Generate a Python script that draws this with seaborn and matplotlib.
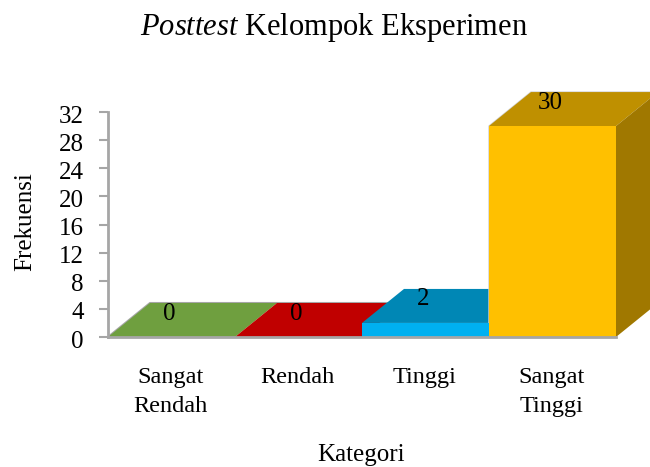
import matplotlib
matplotlib.use('Agg')
import matplotlib.pyplot as plt
from matplotlib.transforms import ScaledTranslation
import seaborn as sns

categories = ['Sangat\nRendah', 'Rendah', 'Tinggi', 'Sangat\nTinggi']
values = [0, 0, 2, 30]
y_ticks = [0, 4, 8, 12, 16, 20, 24, 28, 32]

front_colors = ['#70AD47', '#C00000', '#00B0F0', '#FFC000']
top_colors = ['#6F9F3F', '#C00000', '#0087B5', '#BF9000']
side_colors = ['#557F33', '#900000', '#00749E', '#A07800']

sns.set_style('white')
plt.rcParams['font.family'] = ['Liberation Serif', 'DejaVu Serif']
plt.rcParams['mathtext.fontset'] = 'custom'
plt.rcParams['mathtext.it'] = 'Liberation Serif:italic'
plt.rcParams['mathtext.rm'] = 'Liberation Serif'
plt.rcParams['text.color'] = 'black'

W, H = 650, 467
fig = plt.figure(figsize=(W / 100, H / 100), dpi=100)
ax = fig.add_axes([108 / W, 1 - 337 / H, 508 / W, 225 / H])

sns.barplot(x=categories, y=values, hue=categories, palette=front_colors,
            width=1, saturation=1, legend=False, linewidth=0, ax=ax)
ax.set_xlim(-0.5, 3.5)
ax.set_ylim(0, 32)
ax.set_yticks(y_ticks)
ax.patch.set_alpha(0)

# fake 3d depth, in data units
dx = 42 / 127
dy = 34 / (225 / 32)
grey = '#A6A6A6'

# floor outline behind the bars
ax.plot([-0.5, -0.5 + dx, 3.5 + dx], [0, dy, dy], color=grey, lw=1.5,
        clip_on=False, zorder=1)

bars = ax.patches
for i, v in enumerate(values):
    z = 2 + i
    left, right = i - 0.5, i + 0.5
    bars[i].set_zorder(z + 0.5)
    ax.fill([left, left + dx, right + dx, right], [v, v + dy, v + dy, v],
            color=top_colors[i], lw=0, clip_on=False, zorder=z)
    ax.fill([right, right + dx, right + dx, right], [0, dy, v + dy, v],
            color=side_colors[i], lw=0, clip_on=False, zorder=z)
    ax.text(i - 0.02, v + dy * 0.69, str(v), ha='center', va='center', fontsize=18,
            color='black', clip_on=False, zorder=20)

# light edge on the tall bar
ax.plot([2.5, 2.5, 2.5 + dx, 3.5 + dx], [0, values[3], values[3] + dy, values[3] + dy],
        color='#D0D0D0', lw=1, clip_on=False, zorder=4.4)

for s in ['top', 'right']:
    ax.spines[s].set_visible(False)
for s in ['left', 'bottom']:
    ax.spines[s].set_color(grey)
    ax.spines[s].set_linewidth(2)
    ax.spines[s].set_zorder(15)

ax.tick_params(axis='y', length=6.5, width=1.5, color=grey, pad=11, labelsize=18,
               left=True, labelcolor='black')
ax.tick_params(axis='x', length=0, pad=21.5, labelsize=17.5, labelcolor='black')
for t in ax.get_xticklabels():
    t.set_linespacing(1.5)
    t.set_transform(t.get_transform() + ScaledTranslation(-1 / 72, 0, fig.dpi_scale_trans))
for t in ax.get_yticklabels():
    t.set_transform(t.get_transform() + ScaledTranslation(0, -1.5 / 72, fig.dpi_scale_trans))

fig.text(334 / W, 1 - 28 / H, r'$\mathit{Posttest}$ Kelompok Eksperimen',
         ha='center', va='center', fontsize=22)
fig.text(361 / W, 1 - 455 / H, 'Kategori', ha='center', va='center', fontsize=18)
fig.text(25 / W, 1 - 222 / H, 'Frekuensi', ha='center', va='center',
         rotation=90, fontsize=18)

fig.savefig('out.png', dpi=100)
